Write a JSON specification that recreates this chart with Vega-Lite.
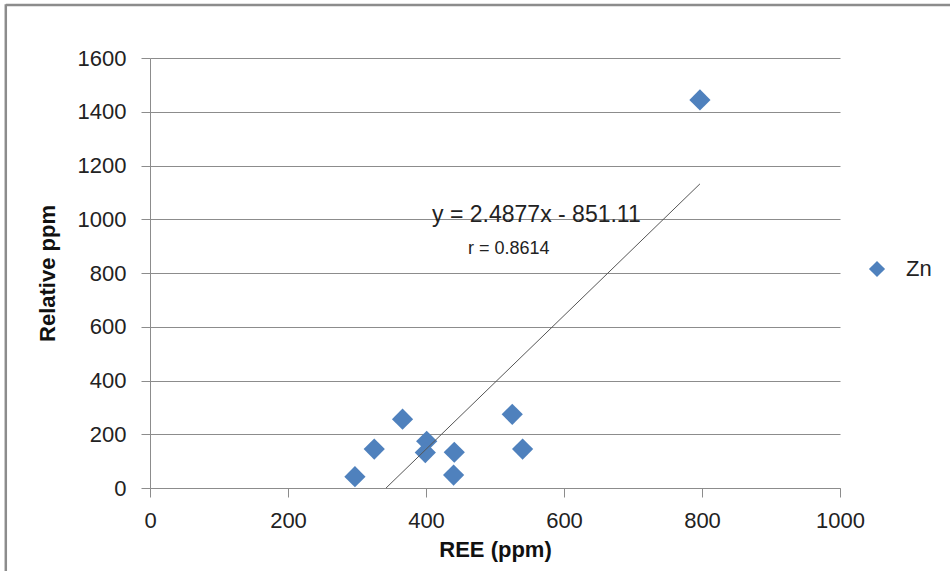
{
  "$schema": "https://vega.github.io/schema/vega-lite/v6.json",
  "width": 690,
  "height": 430,
  "autosize": "none",
  "padding": {"left": 150, "top": 58, "right": 110, "bottom": 83},
  "background": "white",
  "config": {
    "font": "Liberation Sans",
    "view": {"stroke": null},
    "axis": {"labelFont": "Liberation Sans", "titleFont": "Liberation Sans"}
  },
  "datasets": {
    "pts": [
      {"ree": 297, "ppm": 42, "series": "Zn"},
      {"ree": 325, "ppm": 145, "series": "Zn"},
      {"ree": 366, "ppm": 256, "series": "Zn"},
      {"ree": 401, "ppm": 174, "series": "Zn"},
      {"ree": 399, "ppm": 132, "series": "Zn"},
      {"ree": 441, "ppm": 133, "series": "Zn"},
      {"ree": 440, "ppm": 48, "series": "Zn"},
      {"ree": 525, "ppm": 274, "series": "Zn"},
      {"ree": 540, "ppm": 145, "series": "Zn"},
      {"ree": 797, "ppm": 1444, "series": "Zn"}
    ],
    "trend": [
      {"ree": 342.1, "ppm": 0},
      {"ree": 797, "ppm": 1131.6}
    ],
    "frame": [
      {"x1": -209, "x2": 1165, "y1": 1797, "y2": 1797},
      {"x1": -209, "x2": -209, "y1": 1800, "y2": -320}
    ],
    "labels": [
      {"ree": 560, "ppm": 1014, "txt": "y = 2.4877x - 851.11", "size": 23},
      {"ree": 520, "ppm": 890, "txt": "r = 0.8614", "size": 18}
    ]
  },
  "layer": [
    {
      "data": {"name": "pts"},
      "mark": {"type": "point", "shape": "diamond", "filled": true, "size": 450, "opacity": 1},
      "encoding": {
        "x": {
          "field": "ree", "type": "quantitative",
          "scale": {"domain": [0, 1000], "nice": false, "zero": false},
          "axis": {
            "title": "REE (ppm)", "values": [0, 200, 400, 600, 800, 1000], "format": "d",
            "labelFlush": false, "labelOverlap": false,
            "grid": false, "domainColor": "#8c8c8c", "tickColor": "#8c8c8c",
            "tickSize": 9, "labelPadding": 13, "labelFontSize": 22, "labelColor": "#222",
            "titleFontSize": 22, "titleFontWeight": "bold", "titleColor": "#111", "titlePadding": 8
          }
        },
        "y": {
          "field": "ppm", "type": "quantitative",
          "scale": {"domain": [0, 1600], "nice": false},
          "axis": {
            "title": "Relative ppm", "values": [0, 200, 400, 600, 800, 1000, 1200, 1400, 1600], "format": "d",
            "labelOverlap": false,
            "grid": true, "gridColor": "#8c8c8c", "domainColor": "#8c8c8c", "tickColor": "#8c8c8c",
            "tickSize": 9, "labelPadding": 15, "labelFontSize": 22, "labelColor": "#222",
            "titleFontSize": 22, "titleFontWeight": "bold", "titleColor": "#111", "titlePadding": 18
          }
        },
        "color": {
          "field": "series", "type": "nominal",
          "scale": {"range": ["#4F81BD"]},
          "legend": {
            "title": null, "orient": "none", "legendX": 716, "legendY": 200,
            "symbolType": "diamond", "symbolSize": 260, "labelFontSize": 22,
            "labelColor": "#222", "labelOffset": 18
          }
        }
      }
    },
    {
      "data": {"name": "trend"},
      "mark": {"type": "line", "color": "#555555", "strokeWidth": 1},
      "encoding": {
        "x": {"field": "ree", "type": "quantitative"},
        "y": {"field": "ppm", "type": "quantitative"}
      }
    },
    {
      "data": {"name": "frame"},
      "mark": {"type": "rule", "color": "#8c8c8c", "strokeWidth": 2.5, "clip": false},
      "encoding": {
        "x": {"field": "x1", "type": "quantitative"},
        "x2": {"field": "x2"},
        "y": {"field": "y1", "type": "quantitative"},
        "y2": {"field": "y2"}
      }
    },
    {
      "data": {"name": "labels"},
      "mark": {"type": "text", "color": "#222", "align": "center", "baseline": "middle"},
      "encoding": {
        "x": {"field": "ree", "type": "quantitative"},
        "y": {"field": "ppm", "type": "quantitative"},
        "text": {"field": "txt"},
        "size": {"field": "size", "type": "quantitative", "scale": null}
      }
    }
  ]
}
